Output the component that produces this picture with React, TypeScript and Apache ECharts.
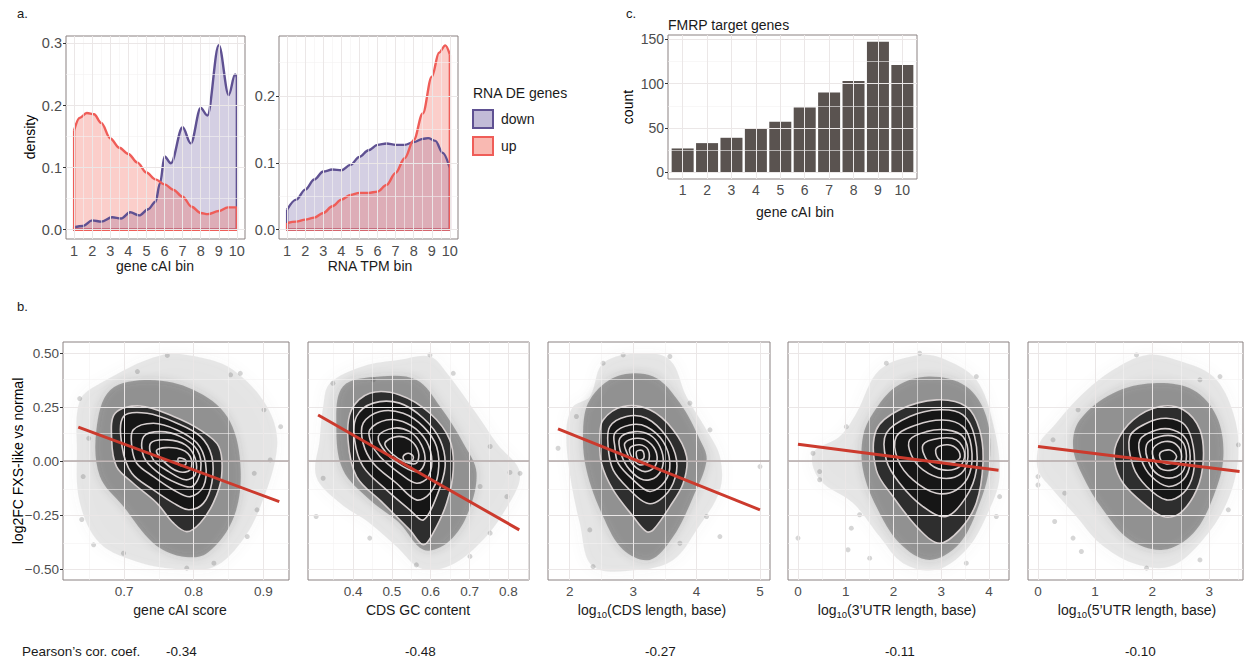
import React, { useEffect, useRef } from "react";
import * as echarts from "echarts";

const FONT = '"Liberation Sans", Arial, Helvetica, sans-serif';

// ---------------- panel a: density data ----------------
const binTicks = [1, 2, 3, 4, 5, 6, 7, 8, 9, 10];
const binMinor = [1.5, 2.5, 3.5, 4.5, 5.5, 6.5, 7.5, 8.5, 9.5];
const densTicksCai = [0, 0.1, 0.2, 0.3];
const densTicksTpm = [0, 0.1, 0.2];
const densMinor = [0.05, 0.15, 0.25];

const caiDownX = [1, 1.5, 2, 2.5, 3.1, 3.6, 4.1, 4.6, 5.1, 5.5, 5.75, 6, 6.35, 7, 7.45, 8, 8.37, 9, 9.55, 9.9, 10];
const caiDownY = [0.004, 0.006, 0.015, 0.013, 0.02, 0.018, 0.028, 0.023, 0.033, 0.045, 0.075, 0.118, 0.107, 0.165, 0.139, 0.196, 0.184, 0.297, 0.217, 0.25, 0.246];
const caiUpX = [1, 1.3, 1.7, 2.1, 2.5, 3, 3.5, 4, 4.5, 5, 5.5, 6, 6.5, 7, 7.5, 8, 8.4, 9, 9.5, 10];
const caiUpY = [0.16, 0.18, 0.188, 0.186, 0.172, 0.147, 0.132, 0.122, 0.108, 0.092, 0.081, 0.073, 0.064, 0.053, 0.037, 0.027, 0.025, 0.03, 0.036, 0.036];

const tpmDownX = [1, 1.5, 2, 2.5, 3, 3.5, 4, 4.5, 5, 5.5, 6, 6.5, 7, 7.5, 8, 8.5, 8.8, 9.2, 9.6, 10];
const tpmDownY = [0.03, 0.045, 0.06, 0.075, 0.087, 0.09, 0.089, 0.097, 0.109, 0.119, 0.127, 0.129, 0.127, 0.127, 0.131, 0.136, 0.137, 0.133, 0.115, 0.092];
const tpmUpX = [1, 1.5, 2, 2.5, 3, 3.5, 4, 4.5, 5, 5.5, 6, 6.5, 7, 7.5, 8, 8.5, 9, 9.4, 9.75, 10];
const tpmUpY = [0.01, 0.012, 0.015, 0.018, 0.025, 0.035, 0.045, 0.052, 0.055, 0.055, 0.057, 0.067, 0.085, 0.107, 0.134, 0.174, 0.229, 0.265, 0.276, 0.262];

// ---------------- panel c: bars ----------------
const fmrpBins = [1, 2, 3, 4, 5, 6, 7, 8, 9, 10];
const fmrpCounts = [27, 33, 39, 50, 57, 73, 90, 103, 147, 121];
const countTicks = [0, 50, 100, 150];
const countMinor = [25, 75, 125];

// ---------------- panel b: scatter / density clouds ----------------
const bYTicks = [-0.5, -0.25, 0, 0.25, 0.5];
const bYMinor = [-0.375, -0.125, 0.125, 0.375];

const p1XTicks = [0.7, 0.8, 0.9];
const p1XMinor = [0.65, 0.75, 0.85];
const p2XTicks = [0.4, 0.5, 0.6, 0.7, 0.8];
const p2XMinor = [0.35, 0.45, 0.55, 0.65, 0.75, 0.85];
const p3XTicks = [2, 3, 4, 5];
const p3XMinor = [2.5, 3.5, 4.5];
const p4XTicks = [0, 1, 2, 3, 4];
const p4XMinor = [0.5, 1.5, 2.5, 3.5];
const p5XTicks = [0, 1, 2, 3];
const p5XMinor = [0.5, 1.5, 2.5, 3.5];

const pearsonValues = ["-0.34", "-0.48", "-0.27", "-0.11", "-0.10"];

const p1Outer = [[0.752,0.49],[0.81,0.48],[0.858,0.42],[0.906,0.25],[0.92,0.07],[0.896,-0.21],[0.867,-0.38],[0.829,-0.49],[0.781,-0.5],[0.723,-0.47],[0.665,-0.38],[0.636,-0.19],[0.632,0.05],[0.636,0.28],[0.665,0.36]];
const p1Mid = [[0.68,0.33],[0.737,0.376],[0.8,0.33],[0.848,0.207],[0.867,-0.01],[0.858,-0.256],[0.819,-0.426],[0.781,-0.44],[0.742,-0.38],[0.699,-0.21],[0.665,-0.07],[0.66,0.145]];
const p1Contours = [
  [[0.687,0.222],[0.723,0.256],[0.771,0.207],[0.809,0.145],[0.836,0.068],[0.84,-0.071],[0.828,-0.194],[0.809,-0.287],[0.79,-0.326],[0.771,-0.287],[0.747,-0.194],[0.713,-0.102],[0.689,-0.025],[0.682,0.099]],
  [[0.699,0.207],[0.733,0.222],[0.776,0.176],[0.81,0.114],[0.826,0.022],[0.826,-0.1],[0.814,-0.194],[0.793,-0.225],[0.771,-0.194],[0.742,-0.133],[0.711,-0.056],[0.697,0.068]],
  [[0.713,0.145],[0.742,0.176],[0.776,0.145],[0.805,0.083],[0.817,-0.009],[0.814,-0.117],[0.795,-0.164],[0.771,-0.133],[0.742,-0.071],[0.718,-0.009],[0.711,0.068]],
  [[0.728,0.114],[0.752,0.137],[0.781,0.114],[0.805,0.052],[0.81,-0.04],[0.798,-0.117],[0.776,-0.102],[0.747,-0.048],[0.728,0.022]],
  [[0.738,0.083],[0.762,0.099],[0.788,0.076],[0.802,0.014],[0.802,-0.063],[0.788,-0.086],[0.764,-0.048],[0.742,0.006]],
  [[0.747,0.052],[0.776,0.06],[0.795,0.022],[0.795,-0.04],[0.778,-0.048],[0.757,-0.002]],
  [[0.778,0.014],[0.788,0.006],[0.788,-0.017],[0.779,-0.017]],
];
const p1Points = [[0.925,0.16],[0.901,0.238],[0.867,0.407],[0.853,0.4],[0.762,0.49],[0.719,0.415],[0.636,0.29],[0.639,-0.27],[0.656,-0.387],[0.699,-0.426],[0.877,-0.349],[0.891,-0.225],[0.887,-0.056],[0.91,0.006],[0.641,-0.071],[0.649,0.106],[0.79,-0.495],[0.829,-0.472]];
const p1Fit = [[0.634,0.158],[0.923,-0.187]];

const p2Outer = [[0.34,0.36],[0.426,0.44],[0.52,0.47],[0.598,0.485],[0.641,0.41],[0.718,0.22],[0.77,0.083],[0.83,-0.056],[0.787,-0.24],[0.718,-0.395],[0.641,-0.49],[0.572,-0.495],[0.512,-0.395],[0.443,-0.287],[0.366,-0.194],[0.305,-0.071],[0.314,0.099],[0.323,0.253]];
const p2Mid = [[0.374,0.346],[0.469,0.392],[0.563,0.377],[0.624,0.253],[0.684,0.083],[0.718,-0.056],[0.692,-0.256],[0.641,-0.38],[0.581,-0.41],[0.52,-0.287],[0.443,-0.179],[0.374,-0.04],[0.357,0.16]];
const p2Contours = [
  [[0.396,0.238],[0.443,0.315],[0.52,0.307],[0.598,0.222],[0.649,0.099],[0.658,-0.04],[0.641,-0.194],[0.606,-0.333],[0.581,-0.387],[0.546,-0.318],[0.477,-0.194],[0.409,-0.071],[0.387,0.099]],
  [[0.409,0.207],[0.452,0.269],[0.52,0.269],[0.581,0.199],[0.624,0.099],[0.637,-0.025],[0.615,-0.164],[0.581,-0.272],[0.546,-0.225],[0.486,-0.133],[0.426,-0.025],[0.404,0.099]],
  [[0.426,0.176],[0.469,0.23],[0.529,0.222],[0.581,0.16],[0.615,0.068],[0.619,-0.056],[0.598,-0.148],[0.563,-0.179],[0.512,-0.102],[0.452,-0.009],[0.426,0.083]],
  [[0.443,0.145],[0.486,0.191],[0.538,0.176],[0.581,0.114],[0.602,0.022],[0.594,-0.071],[0.563,-0.102],[0.52,-0.056],[0.469,0.022],[0.447,0.083]],
  [[0.465,0.114],[0.503,0.153],[0.546,0.137],[0.576,0.076],[0.585,-0.002],[0.568,-0.048],[0.529,-0.025],[0.486,0.037]],
  [[0.482,0.083],[0.512,0.114],[0.546,0.099],[0.568,0.045],[0.563,-0.009],[0.533,-0.002],[0.499,0.037]],
  [[0.529,0.022],[0.542,0.037],[0.555,0.022],[0.55,-0.002],[0.535,-0.002]],
];
const p2Points = [[0.804,-0.052],[0.83,-0.056],[0.753,0.068],[0.598,0.492],[0.658,0.407],[0.305,-0.256],[0.323,-0.079],[0.443,-0.356],[0.796,-0.164],[0.727,-0.117],[0.753,-0.333],[0.701,-0.441],[0.563,-0.48],[0.452,0.377],[0.348,0.361]];
const p2Fit = [[0.31,0.214],[0.828,-0.318]];

const p3Outer = [[2.316,0.299],[2.526,0.454],[3.105,0.5],[3.579,0.469],[3.842,0.299],[4.158,0.145],[4.368,0.022],[4.368,-0.133],[4.0,-0.318],[3.632,-0.457],[3.105,-0.503],[2.368,-0.488],[2.158,-0.287],[2.0,-0.056],[1.947,0.145],[2.053,0.253]];
const p3Mid = [[2.316,0.284],[2.737,0.392],[3.316,0.392],[3.737,0.269],[4.053,0.099],[4.158,0.006],[3.947,-0.164],[3.632,-0.349],[3.263,-0.457],[2.842,-0.41],[2.526,-0.256],[2.263,-0.04],[2.211,0.145]];
const p3Contours = [
  [[2.526,0.191],[2.842,0.253],[3.263,0.238],[3.632,0.145],[3.842,0.022],[3.789,-0.102],[3.579,-0.21],[3.316,-0.318],[3.211,-0.326],[3.0,-0.256],[2.684,-0.133],[2.5,-0.009],[2.474,0.114]],
  [[2.632,0.16],[2.895,0.207],[3.211,0.199],[3.526,0.114],[3.684,0.006],[3.632,-0.102],[3.421,-0.179],[3.211,-0.194],[2.947,-0.133],[2.684,-0.04],[2.605,0.068]],
  [[2.711,0.13],[2.947,0.168],[3.211,0.16],[3.474,0.091],[3.579,-0.009],[3.5,-0.094],[3.263,-0.14],[3.0,-0.086],[2.763,-0.009],[2.711,0.068]],
  [[2.789,0.106],[3.026,0.137],[3.263,0.122],[3.421,0.068],[3.474,-0.009],[3.368,-0.071],[3.158,-0.086],[2.947,-0.04],[2.816,0.029]],
  [[2.868,0.083],[3.053,0.106],[3.237,0.091],[3.368,0.037],[3.342,-0.025],[3.184,-0.048],[3.0,-0.017],[2.905,0.037]],
  [[2.947,0.06],[3.105,0.076],[3.237,0.052],[3.237,-0.002],[3.105,-0.017],[2.989,0.014]],
  [[3.053,0.045],[3.147,0.049],[3.168,0.014],[3.079,0.006]],
];
const p3Points = [[1.816,0.06],[5.0,-0.025],[4.368,-0.349],[4.158,-0.256],[3.737,-0.38],[2.368,-0.488],[2.316,-0.318],[2.105,0.207],[2.526,0.454],[2.842,0.492],[3.579,0.485],[3.895,0.269],[4.211,0.145]];
const p3Fit = [[1.815,0.15],[5.0,-0.225]];

const p4Outer = [[1.222,0.222],[1.71,0.423],[2.548,0.492],[3.106,0.469],[3.735,0.377],[4.084,0.176],[4.223,-0.071],[3.944,-0.256],[3.525,-0.41],[2.897,-0.503],[2.199,-0.472],[1.71,-0.349],[1.152,-0.194],[0.454,-0.086],[0.314,0.037],[0.873,0.114]];
const p4Mid = [[1.571,0.222],[2.059,0.346],[2.757,0.392],[3.525,0.346],[3.944,0.207],[4.014,-0.009],[3.805,-0.194],[3.386,-0.38],[2.757,-0.457],[2.129,-0.38],[1.64,-0.21],[1.361,-0.04],[1.361,0.114]];
const p4Contours = [
  [[1.64,0.145],[2.129,0.238],[2.897,0.284],[3.525,0.253],[3.805,0.145],[3.874,-0.009],[3.735,-0.194],[3.386,-0.318],[2.967,-0.38],[2.548,-0.318],[1.99,-0.164],[1.64,-0.04]],
  [[1.85,0.13],[2.339,0.207],[2.967,0.238],[3.455,0.215],[3.7,0.114],[3.735,-0.04],[3.525,-0.164],[3.106,-0.256],[2.618,-0.21],[2.129,-0.102],[1.85,0.006]],
  [[2.059,0.114],[2.478,0.168],[3.037,0.191],[3.455,0.16],[3.63,0.068],[3.595,-0.056],[3.316,-0.133],[2.897,-0.148],[2.408,-0.086],[2.094,0.006]],
  [[2.339,0.099],[2.688,0.137],[3.106,0.145],[3.455,0.114],[3.56,0.022],[3.42,-0.056],[3.037,-0.079],[2.618,-0.04],[2.374,0.029]],
  [[2.618,0.076],[2.967,0.106],[3.316,0.099],[3.49,0.037],[3.386,-0.025],[3.037,-0.04],[2.723,-0.002]],
  [[2.897,0.06],[3.141,0.076],[3.351,0.052],[3.386,0.014],[3.176,-0.009],[2.932,0.014]],
];
const p4Points = [[0.0,-0.356],[0.454,-0.048],[0.454,-0.086],[1.047,-0.41],[1.117,-0.31],[1.501,-0.449],[1.291,-0.248],[1.012,0.16],[0.314,0.037],[1.85,0.454],[2.548,0.5],[3.735,0.392],[4.223,-0.164],[4.154,-0.256],[3.525,-0.472]];
const p4Fit = [[0, 0.079],[4.2,-0.042]];

const p5Outer = [[0.263,0.16],[0.731,0.299],[1.316,0.423],[1.901,0.492],[2.427,0.469],[3.07,0.392],[3.421,0.222],[3.509,0.022],[3.304,-0.194],[2.836,-0.38],[2.31,-0.488],[1.667,-0.472],[1.082,-0.38],[0.673,-0.256],[0.263,-0.133],[0.0,-0.04],[0.029,0.083]];
const p5Mid = [[0.731,0.191],[1.316,0.315],[2.018,0.361],[2.719,0.33],[3.129,0.207],[3.246,0.022],[3.07,-0.164],[2.719,-0.333],[2.193,-0.41],[1.608,-0.364],[1.14,-0.225],[0.789,-0.071],[0.614,0.068]];
const p5Contours = [
  [[1.374,0.083],[1.667,0.191],[2.135,0.253],[2.544,0.238],[2.836,0.145],[2.895,0.006],[2.778,-0.133],[2.485,-0.241],[2.193,-0.256],[1.842,-0.194],[1.491,-0.102],[1.345,-0.009]],
  [[1.608,0.114],[1.901,0.176],[2.251,0.199],[2.573,0.168],[2.719,0.068],[2.719,-0.056],[2.544,-0.148],[2.251,-0.179],[1.901,-0.117],[1.667,-0.025]],
  [[1.784,0.099],[2.076,0.145],[2.368,0.145],[2.602,0.099],[2.661,-0.009],[2.544,-0.086],[2.281,-0.117],[1.988,-0.071],[1.813,0.006]],
  [[1.901,0.076],[2.135,0.114],[2.398,0.114],[2.573,0.068],[2.573,-0.025],[2.427,-0.071],[2.164,-0.071],[1.959,-0.017]],
  [[2.018,0.06],[2.222,0.091],[2.427,0.076],[2.515,0.022],[2.427,-0.032],[2.193,-0.04],[2.047,-0.002]],
  [[2.135,0.037],[2.31,0.052],[2.427,0.022],[2.339,-0.009],[2.181,-0.006]],
];
const p5Points = [[0,-0.071],[0,-0.11],[0.263,0.099],[0.292,-0.279],[0.468,-0.148],[0.614,-0.356],[0.76,-0.418],[0.702,0.238],[1.725,0.492],[2.836,0.377],[3.187,0.392],[3.509,0.076],[3.333,-0.225],[2.836,-0.457],[1.901,-0.495]];
const p5Fit = [[0, 0.068],[3.53,-0.048]];

// ---------------- styles ----------------
const BORDER = "#8a8181";
const GRID_MAJ = "#ebe7e7";
const GRID_MIN = "#f4f1f1";
const TICK_TXT = "#4d4d4d";
const DOWN_LINE = "#5f5192";
const DOWN_FILL = "rgba(110,92,160,0.42)";
const UP_LINE = "#ef5d58";
const UP_FILL = "rgba(242,100,85,0.45)";
const FIT = "#cc3a2d";

function mkAxis(gi: number, r: number[], ticks: number[], fmt: (v: number) => string, fs: number, showLabels = true) {
  return {
    type: "value",
    gridIndex: gi,
    min: r[0],
    max: r[1],
    axisLine: { show: false },
    splitLine: { show: false },
    minorTick: { show: false },
    minorSplitLine: { show: false },
    axisTick: { show: showLabels, inside: false, length: 3, lineStyle: { color: "#333333", width: 1 }, customValues: ticks },
    axisLabel: { show: showLabels, customValues: ticks, formatter: fmt, color: TICK_TXT, fontSize: fs, fontFamily: FONT, margin: 4, hideOverlap: false },
  };
}

function gridLines(gi: number, xt: number[], xm: number[], yt: number[], ym: number[]) {
  const maj = { color: GRID_MAJ, width: 1, type: "solid" };
  const min = { color: GRID_MIN, width: 0.6, type: "solid" };
  const data = [
    ...xm.map((v) => ({ xAxis: v, lineStyle: min })),
    ...ym.map((v) => ({ yAxis: v, lineStyle: min })),
    ...xt.map((v) => ({ xAxis: v, lineStyle: maj })),
    ...yt.map((v) => ({ yAxis: v, lineStyle: maj })),
  ];
  return {
    type: "line", xAxisIndex: gi, yAxisIndex: gi, data: [], z: 1, silent: true,
    markLine: { silent: true, symbol: ["none", "none"], label: { show: false }, animation: false, data },
  };
}

function densitySeries(gi: number, xs: number[], ys: number[], line: string, fill: string) {
  const pts = xs.map((x, i) => [x, ys[i]]);
  const n = xs.length - 1;
  const edge = [[xs[0], ys[0]], [xs[0], 0], [xs[n], 0], [xs[n], ys[n]]];
  return [
    { type: "line", xAxisIndex: gi, yAxisIndex: gi, data: pts, smooth: 0.35, smoothMonotone: "x", symbol: "none", silent: true, z: 3,
      lineStyle: { color: line, width: 2.4 }, areaStyle: { color: fill } },
    { type: "line", xAxisIndex: gi, yAxisIndex: gi, data: edge, symbol: "none", silent: true, z: 3,
      lineStyle: { color: line, width: 2.4, join: "round" } },
  ];
}

function cloudSeries(gi: number, outer: number[][], mid: number[][], contours: number[][][]) {
  const rings = [
    { pts: outer, fill: "rgba(105,105,105,0.14)", stroke: "none", lw: 0, blur: 14, sc: "rgba(105,105,105,0.35)" },
    { pts: mid, fill: "rgba(55,55,55,0.38)", stroke: "none", lw: 0, blur: 10, sc: "rgba(55,55,55,0.45)" },
    ...contours.map((c, i) => ({ pts: c, fill: i === 0 ? "rgba(28,28,28,0.84)" : "#161616", stroke: "#d6cfcf", lw: 1.6, blur: 0, sc: "transparent" })),
  ];
  return {
    type: "custom", coordinateSystem: "cartesian2d", xAxisIndex: gi, yAxisIndex: gi, silent: true, z: 3,
    data: rings.map((r) => [r.pts[0][0], r.pts[0][1]]),
    encode: { x: 0, y: 1 },
    renderItem: (params: any, api: any) => {
      const r = rings[params.dataIndex];
      const style: any = { fill: r.fill, stroke: r.stroke, lineWidth: r.lw };
      if (r.blur) { style.shadowBlur = r.blur; style.shadowColor = r.sc; }
      return {
        type: "polygon",
        shape: { points: r.pts.map((p) => api.coord(p)), smooth: 0.35 },
        style,
      };
    },
  };
}

function T(x: number, y: number, text: string, size = 14, align = "left", color = "#1a1a1a", rot = 0, rich?: any) {
  return {
    type: "text", x, y, rotation: rot, silent: true, z: 100,
    style: { text, fill: color, fontSize: size, fontFamily: FONT, textAlign: align, textVerticalAlign: "middle", align, verticalAlign: "middle", rich, lineHeight: rich ? 18 : undefined },
  };
}

function buildOption() {
  const grid: any[] = [];
  const xAxis: any[] = [];
  const yAxis: any[] = [];
  const series: any[] = [];

  const addPanel = (rect: number[], xr: number[], yr: number[], xt: number[], xm: number[], yt: number[], ym: number[],
    xf: (v: number) => string, yf: (v: number) => string, fs: number, showY = true) => {
    const gi = grid.length;
    grid.push({ left: rect[0], top: rect[1], width: rect[2], height: rect[3], show: true, borderColor: BORDER, borderWidth: 1, backgroundColor: "#ffffff" });
    xAxis.push(mkAxis(gi, xr, xt, xf, fs));
    yAxis.push(mkAxis(gi, yr, yt, yf, fs, showY));
    series.push(gridLines(gi, xt, xm, yt, ym));
    return gi;
  };

  const f1 = (v: number) => v.toFixed(1);
  const f0 = (v: number) => String(v);
  const f2m = (v: number) => (v < 0 ? "\u2212" : "") + Math.abs(v).toFixed(2);

  // panel a
  const a1 = addPanel([66, 36, 179, 203], [0.55, 10.45], [-0.015, 0.312], binTicks, binMinor, densTicksCai, densMinor, f0, f1, 14.5);
  series.push(...densitySeries(a1, caiDownX, caiDownY, DOWN_LINE, DOWN_FILL));
  series.push(...densitySeries(a1, caiUpX, caiUpY, UP_LINE, UP_FILL));
  const a2 = addPanel([279, 36, 179, 203], [0.55, 10.45], [-0.014, 0.29], binTicks, binMinor, densTicksTpm, densMinor, f0, f1, 14.5);
  series.push(...densitySeries(a2, tpmDownX, tpmDownY, DOWN_LINE, DOWN_FILL));
  series.push(...densitySeries(a2, tpmUpX, tpmUpY, UP_LINE, UP_FILL));

  // panel c
  const c = addPanel([668, 35, 249, 144], [0.4, 10.6], [-7.35, 154.6], fmrpBins, [], countTicks, countMinor, f0, f0, 14);
  series.push({ type: "bar", xAxisIndex: c, yAxisIndex: c, data: fmrpBins.map((b, i) => [b, fmrpCounts[i]]), barWidth: 22, silent: true, z: 3, itemStyle: { color: "#5a5350" } });

  // panel b
  const bY = [-0.55, 0.552];
  const bPanels = [
    { rect: [63, 342, 226, 238], xr: [0.612, 0.937], xt: p1XTicks, xm: p1XMinor, xf: f1, outer: p1Outer, mid: p1Mid, rings: p1Contours, pts: p1Points, fit: p1Fit },
    { rect: [308, 342, 221, 238], xr: [0.284, 0.853], xt: p2XTicks, xm: p2XMinor, xf: f1, outer: p2Outer, mid: p2Mid, rings: p2Contours, pts: p2Points, fit: p2Fit },
    { rect: [548, 342, 222, 238], xr: [1.657, 5.158], xt: p3XTicks, xm: p3XMinor, xf: f0, outer: p3Outer, mid: p3Mid, rings: p3Contours, pts: p3Points, fit: p3Fit },
    { rect: [788, 342, 221, 238], xr: [-0.209, 4.419], xt: p4XTicks, xm: p4XMinor, xf: f0, outer: p4Outer, mid: p4Mid, rings: p4Contours, pts: p4Points, fit: p4Fit },
    { rect: [1028, 342, 215, 238], xr: [-0.175, 3.59], xt: p5XTicks, xm: p5XMinor, xf: f0, outer: p5Outer, mid: p5Mid, rings: p5Contours, pts: p5Points, fit: p5Fit },
  ];
  bPanels.forEach((p, idx) => {
    const gi = addPanel(p.rect, p.xr, bY, p.xt, p.xm, bYTicks, bYMinor, p.xf, f2m, 13.5, idx === 0);
    series.push({
      type: "line", xAxisIndex: gi, yAxisIndex: gi, data: [], z: 2, silent: true,
      markLine: { silent: true, symbol: ["none", "none"], label: { show: false }, animation: false,
        data: [{ yAxis: 0, lineStyle: { color: "#b3a9a9", width: 1.6, type: "solid" } }] },
    });
    series.push({ type: "scatter", xAxisIndex: gi, yAxisIndex: gi, data: p.pts, symbolSize: 5, silent: true, z: 3, itemStyle: { color: "rgba(70,70,70,0.28)" } });
    series.push(cloudSeries(gi, p.outer, p.mid, p.rings));
    series.push({ type: "line", xAxisIndex: gi, yAxisIndex: gi, data: p.fit, symbol: "none", silent: true, z: 5, lineStyle: { color: FIT, width: 3 } });
  });

  const subRich = { s: { fontSize: 9.5, fontFamily: FONT, fill: "#1a1a1a", verticalAlign: "bottom", lineHeight: 18 } };
  const pearsonX = [166, 405, 645, 885, 1125];

  const graphic: any[] = [
    T(17, 13, "a.", 13),
    T(626, 13, "c.", 13),
    T(17, 306, "b.", 13),
    T(30, 137, "density", 14, "center", "#000", Math.PI / 2),
    T(155, 266, "gene cAI bin", 14, "center"),
    T(370, 266, "RNA TPM bin", 14, "center"),
    T(473, 93, "RNA DE genes", 14),
    { type: "rect", shape: { x: 473, y: 110, width: 20, height: 18 }, style: { fill: DOWN_FILL, stroke: DOWN_LINE, lineWidth: 2 }, silent: true, z: 100 },
    { type: "rect", shape: { x: 473, y: 137, width: 20, height: 18 }, style: { fill: UP_FILL, stroke: UP_LINE, lineWidth: 2 }, silent: true, z: 100 },
    T(501, 119, "down", 14),
    T(501, 146, "up", 14),
    T(668, 25, "FMRP target genes", 14),
    T(628, 107, "count", 14, "center", "#000", Math.PI / 2),
    T(795, 212, "gene cAI bin", 14, "center"),
    T(18, 461, "log2FC FXS-like vs normal", 14, "center", "#000", Math.PI / 2),
    T(180, 610, "gene cAI score", 14, "center"),
    T(418, 610, "CDS GC content", 14, "center"),
    T(652, 610, "log{s|10}(CDS length, base)", 14, "center", "#1a1a1a", 0, subRich),
    T(897, 610, "log{s|10}(3\u2019UTR length, base)", 14, "center", "#1a1a1a", 0, subRich),
    T(1137, 610, "log{s|10}(5\u2019UTR length, base)", 14, "center", "#1a1a1a", 0, subRich),
    T(22, 651, "Pearson\u2019s cor. coef.", 13.5),
    ...pearsonValues.map((v, i) => T(pearsonX[i], 651, v, 13.5)),
  ];

  return { animation: false, backgroundColor: "#ffffff", grid, xAxis, yAxis, series, graphic };
}

export default function App() {
  const ref = useRef<HTMLDivElement>(null);
  useEffect(() => {
    const chart = echarts.init(ref.current!, null, { renderer: "svg" });
    chart.setOption(buildOption() as any);
    return () => chart.dispose();
  }, []);
  return <div ref={ref} style={{ position: "fixed", left: 0, top: 0, width: 1245, height: 659, background: "#fff" }} />;
}
